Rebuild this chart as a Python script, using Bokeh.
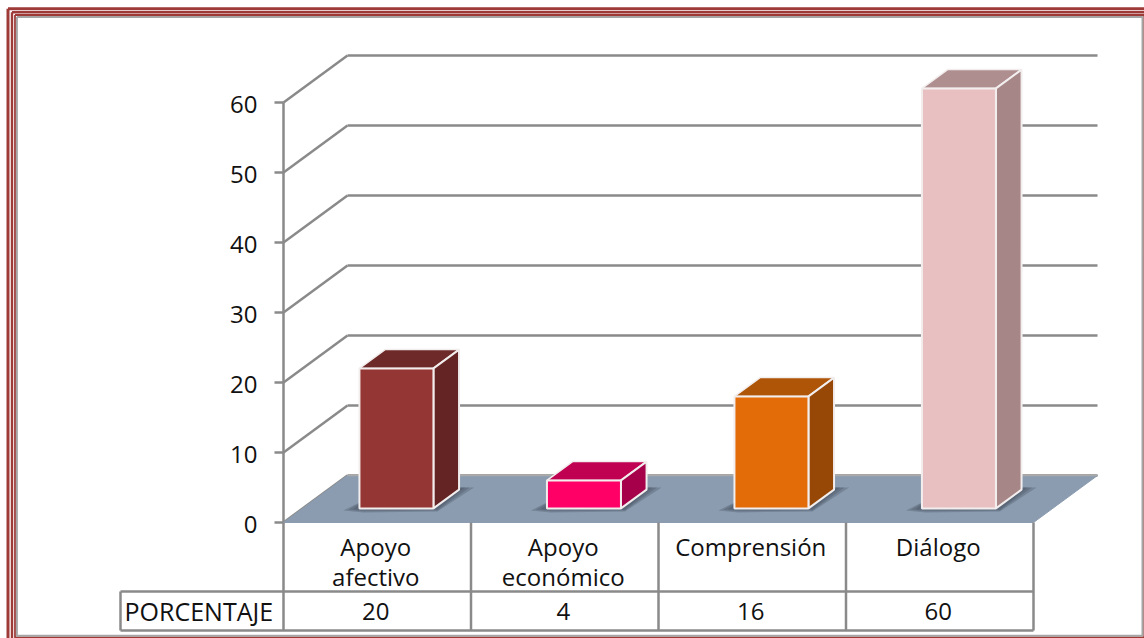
from bokeh.plotting import figure
from bokeh.embed import file_html
from bokeh.resources import INLINE
from bokeh.core.properties import value
from bokeh.models import Range1d

categories = [["Apoyo", "afectivo"], ["Apoyo", "económico"], ["Comprensión"], ["Diálogo"]]
values = [20, 4, 16, 60]
y_ticks = [0, 10, 20, 30, 40, 50, 60]
row_title = "PORCENTAJE"
front = ["#943634", "#FF0066", "#E36C09", "#E9C0C2"]
side = ["#632423", "#A6004A", "#974806", "#A78688"]
top = ["#6E2A28", "#C00050", "#AE5508", "#AF8E90"]

W, H = 1144, 638
PX_X = 187.5   # px per category
PX_Y = 7.0     # px per value unit
X0, Y0 = 283, 522
DX = 64 / PX_X   # depth in data units
DY = 47 / PX_Y
BAR_W = 74 / PX_X
FONT = value("Open Sans")
GRID = "#8A8A8A"
INK = "#111111"
EDGE = "#F3EEEE"


def hx(px):
    return (px - X0) / PX_X


def vy(px):
    return (Y0 - px) / PX_Y


p = figure(width=W, height=H, output_backend="svg", toolbar_location=None, min_border=0,
           x_range=Range1d(hx(0), hx(W)),
           y_range=Range1d(vy(H), vy(0)),
           styles={"position": "absolute", "left": "0px", "top": "0px"})
p.axis.visible = False
p.grid.visible = False
p.outline_line_color = None
p.background_fill_color = "white"
p.border_fill_color = "white"

n = len(categories)
ymax = y_ticks[-1]
row1 = -69 / PX_Y
row2 = -108 / PX_Y
xleft = -163 / PX_X
GW = 2.5

# page frame
for (l, t, r, b, c, w) in [(7.5, 8.2, 1150, 650, "#9E3A38", 3), (11.5, 11.7, 1150, 650, "#9E3A38", 2.4),
                           (14.5, 14.5, 1143.7, 637, "#9E3A38", 1.8), (16.4, 16.6, 1142, 635.2, "#A6A6A6", 2)]:
    p.line([hx(l), hx(r), hx(r), hx(l), hx(l)], [vy(t), vy(t), vy(b), vy(b), vy(t)], line_color=c, line_width=w)

# grid: back wall lines and the diagonals on the left wall
for t in y_ticks:
    p.line([0, DX], [t, t + DY], line_color=GRID, line_width=GW)
    p.line([DX, n + DX], [t + DY, t + DY], line_color=GRID, line_width=GW)
    p.line([-9 / PX_X, 0], [t, t], line_color=GRID, line_width=GW)
p.line([0, 0], [0, ymax], line_color=GRID, line_width=GW)

# floor
p.patch([0, DX, n + DX, n], [0, DY, DY, 0], fill_color="#8B9CB0", line_color="#8B9CB0")
p.line([DX, n + DX], [DY, DY], line_color="#A9A9A9", line_width=1.5)

# table
p.multi_line([[i, i] for i in range(n + 1)], [[0, row2]] * (n + 1), line_color=GRID, line_width=GW)
p.line([xleft, n], [row1, row1], line_color=GRID, line_width=GW)
p.line([xleft, n], [row2, row2], line_color=GRID, line_width=GW)
p.line([xleft, xleft], [row1, row2], line_color=GRID, line_width=GW)

# bars
d0, d1 = 0.3, 0.7
for i, v in enumerate(values):
    xc = i + 0.5 + d0 * DX
    xl, xr = xc - BAR_W / 2, xc + BAR_W / 2
    b = d0 * DY
    ddx, ddy = (d1 - d0) * DX, (d1 - d0) * DY
    # soft shadow on the floor (layered)
    for k in (1.0, 0.7, 0.4):
        p.patch([xl - 16 * k / PX_X, xl + 6 / PX_X, xr + ddx + 2 / PX_X, xr + ddx + 15 * k / PX_X, xr + 4 / PX_X, xl + 4 / PX_X],
                [b - 2 * k / PX_Y, b + 9 / PX_Y, b + ddy + 2 / PX_Y, b + ddy + 2 / PX_Y, b - 3 * k / PX_Y, b - 4 * k / PX_Y],
                fill_color="#3A4656", fill_alpha=0.27, line_color=None)
    p.patch([xl, xr, xr + ddx, xl + ddx], [b + v, b + v, b + v + ddy, b + v + ddy],
            fill_color=top[i], line_color=EDGE, line_width=1.5)
    p.patch([xr, xr + ddx, xr + ddx, xr], [b, b + ddy, b + v + ddy, b + v],
            fill_color=side[i], line_color=EDGE, line_width=2)
    p.patch([xl, xr, xr, xl], [b, b, b + v, b + v], fill_color=front[i], line_color=EDGE, line_width=2)

# tick labels
p.text([-26 / PX_X] * len(y_ticks), [t - 2 / PX_Y for t in y_ticks], text=[str(t) for t in y_ticks], text_font=FONT,
       text_font_size="24px", text_align="right", text_baseline="middle", text_color=INK)

# table texts
for i, lines in enumerate(categories):
    for j, s in enumerate(lines):
        p.text([i + 0.5 - 1.5 / PX_X], [-24 / PX_Y - j * 30 / PX_Y], text=[s], text_font=FONT, text_font_size="24px",
               text_align="center", text_baseline="middle", text_color=INK)
    p.text([i + 0.5 - 1.5 / PX_X], [(row1 + row2) / 2], text=[str(values[i])], text_font=FONT, text_font_size="24px",
           text_align="center", text_baseline="middle", text_color=INK)
p.text([xleft + 4 / PX_X], [(row1 + row2) / 2], text=[row_title], text_font=FONT, text_font_size="25px",
       text_align="left", text_baseline="middle", text_color=INK)

open("out.html", "w").write(file_html(p, INLINE))
